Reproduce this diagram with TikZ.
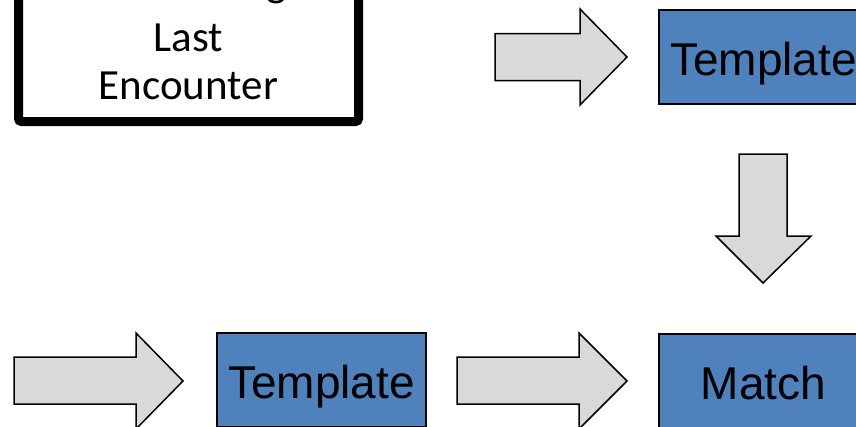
\documentclass[tikz,border=0pt]{standalone}
\usepackage{fontspec}
\setmainfont{Liberation Sans}
\newfontfamily\calibrifont{Carlito}
\definecolor{stageblue}{HTML}{4F81BD}
\definecolor{arrowgray}{HTML}{D9D9D9}
\begin{document}
\begin{tikzpicture}[x=1pt,y=-1pt,
  stagebox/.style={draw=black, line width=1.3pt, fill=stageblue,
    minimum width=209pt, minimum height=94pt, inner sep=0pt,
    font=\fontsize{46}{55}\selectfont, text height=43.5pt, text depth=6.5pt},
  blockarrow/.style={draw=black, line width=1.5pt, fill=arrowgray, line join=miter},
  recallbox/.style={draw=black, line width=9pt, fill=white, rounded corners=3pt,
    minimum width=340pt, minimum height=171pt, inner sep=0pt},
  recalltext/.style={font=\calibrifont\fontsize{43}{48}\selectfont, align=center, inner sep=0pt}]

\useasboundingbox (0,0) rectangle (856,426);
\clip (0,0) rectangle (856,426);

% memory box at the top left
\node[recallbox] (recall) at (188.5,36) {};
\coordinate (recallbase) at (188.5,100);
\node[recalltext, anchor=south] (recalltxt) at (recallbase) {Monitoring\\[7pt]Last\\Encounter};

% processing stages
\node[stagebox] (tplA) at (763.5,57) {Template};
\node[stagebox] (tplB) at (321.5,380) {Template};
\node[stagebox] (match) at (763.5,381) {Match};

% block arrows
\draw[blockarrow] (495,33.5) -- (580,33.5) -- (580,9) -- (627,57) -- (580,105)
  -- (580,80.5) -- (495,80.5) -- cycle;
\draw[blockarrow] (739,154) -- (787,154) -- (787,236) -- (811,236) -- (763,283)
  -- (716,236) -- (739,236) -- cycle;
\draw[blockarrow] (14,357) -- (136,357) -- (136,333) -- (183,381) -- (136,429)
  -- (136,404) -- (14,404) -- cycle;
\draw[blockarrow] (457,357) -- (579,357) -- (579,333) -- (627,381) -- (579,429)
  -- (579,404) -- (457,404) -- cycle;
\end{tikzpicture}
\end{document}
